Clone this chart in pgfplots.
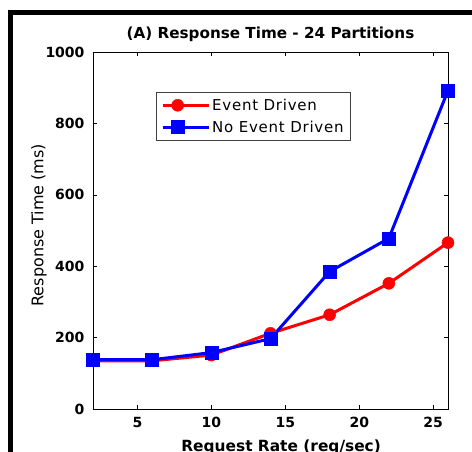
\documentclass[border=0pt]{standalone}
\usepackage{pgfplots}
\pgfplotsset{compat=1.18}
\usepackage{fontspec}
\setmainfont{DejaVu Sans}
\begin{document}
\begin{tikzpicture}[x=1pt,y=1pt]
\path[use as bounding box] (0,0) rectangle (472,451);
\draw[line width=5pt] (10.8,-30) -- (10.8,438) -- (500,438);
\begin{axis}[
  at={(93pt,42pt)}, anchor=south west,
  width=355pt, height=357pt, scale only axis,
  xmin=2, xmax=26, ymin=0, ymax=1000,
  xtick={5,10,15,20,25}, ytick={0,200,400,600,800,1000},
  tick align=inside, major tick length=4pt,
  tick style={black, line width=0.6pt},
  axis line style={line width=0.8pt, black},
  /pgf/number format/assume math mode=true,
  /pgf/number format/1000 sep={},
  ticklabel style={font=\bfseries\fontsize{14}{14}\selectfont},
  xticklabel style={yshift=-5pt},
  yticklabel style={xshift=-5pt},
  title={(A) Response Time - 24 Partitions},
  title style={font=\bfseries\fontsize{15.2}{15.2}\selectfont, at={(axis description cs:0.5,1)}, anchor=base, yshift=8pt},
  xlabel={Request Rate (req/sec)},
  xlabel style={font=\bfseries\fontsize{15.4}{15.4}\selectfont, at={(axis description cs:0.53,0)}, anchor=north, yshift=-27pt},
  ylabel={Response Time (ms)},
  ylabel style={font=\fontsize{16}{16}\selectfont, at={(axis description cs:-0.152,0.515)}, anchor=center, rotate=0},
  clip=false,
  legend style={at={(axis description cs:0.177,0.888)}, anchor=north west, draw=black!75, line width=0.7pt,
    font=\fontsize{15}{15}\selectfont\addfontfeatures{LetterSpace=5}, inner xsep=5pt, inner ysep=3pt, row sep=2pt,
    nodes={inner ysep=3.5pt}},
  legend cell align=left,
  legend image code/.code={\draw[mark repeat=2,mark phase=2,#1] plot coordinates {(0pt,0pt)(15pt,0pt)(30pt,0pt)};
    \path (0pt,0pt) -- (46pt,0pt);},
]
\addplot[color=red, line width=3pt, mark=*, mark size=6pt, mark options={fill=red, draw=red, line width=0.5pt}]
  coordinates {(2,135)(6,135)(10,151)(14,212)(18,264)(22,352)(26,466)};
\addlegendentry{Event Driven}
\addplot[color=blue, line width=3pt, mark=square*, mark size=6.5pt, mark options={fill=blue, draw=blue, line width=0.5pt}]
  coordinates {(2,138)(6,138)(10,158)(14,197)(18,385)(22,478)(26,892)};
\addlegendentry{No Event Driven}
\end{axis}
\end{tikzpicture}
\end{document}
